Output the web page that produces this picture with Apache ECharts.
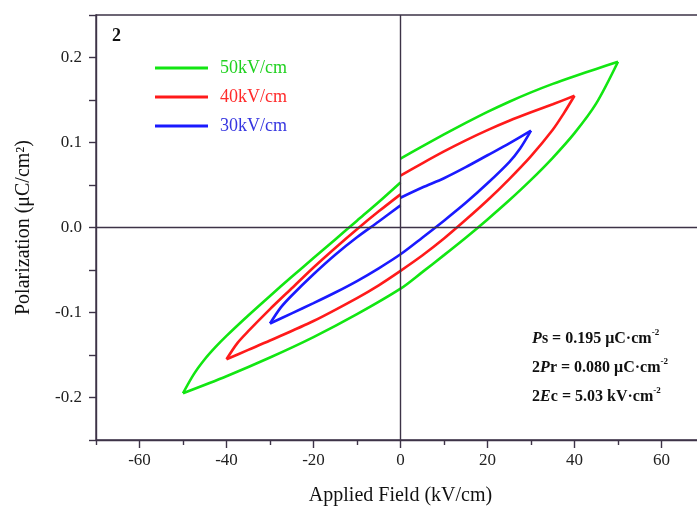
<!DOCTYPE html>
<html>
<head>
<meta charset="utf-8">
<script src="https://cdn.jsdelivr.net/npm/echarts@6/dist/echarts.min.js"></script>
<style>
html,body{margin:0;padding:0;background:#fff}
#main{width:697px;height:506px}
</style>
</head>
<body>
<div id="main"></div>
<script>
// hysteresis loops, [field kV/cm, polarization uC/cm2]
const loopNames = ['50kV/cm', '40kV/cm', '30kV/cm'];

// 50 kV/cm
const g50Rise = [[0,0.081],[5,0.0955],[10,0.1095],[15,0.123],[20,0.136],[25,0.148],[30,0.159],[35,0.169],[40,0.178],[45,0.1865],[50,0.195]];
const g50Fall = [[50,0.195],[45,0.146],[40,0.111],[35,0.082],[30,0.056],[25,0.032],[20,0.0095],[15,-0.012],[10,-0.0325],[5,-0.0525],[0,-0.072],[-10,-0.102],[-20,-0.129],[-30,-0.153],[-40,-0.175],[-50,-0.195]];
const g50Back = [[-50,-0.195],[-47.5,-0.1725],[-45,-0.155],[-42.5,-0.1405],[-40,-0.1275],[-35,-0.1035],[-30,-0.0805],[-25,-0.058],[-20,-0.036],[-15,-0.014],[-10,0.008],[-5,0.030],[0,0.053]];

// 40 kV/cm
const r40Rise = [[0,0.061],[5,0.0755],[10,0.0895],[15,0.1025],[20,0.1145],[25,0.1255],[30,0.1355],[35,0.145],[40,0.155]];
const r40Fall = [[40,0.155],[37.5,0.134],[35,0.115],[30,0.084],[25,0.057],[20,0.032],[15,0.009],[10,-0.013],[5,-0.033],[0,-0.051],[-5,-0.068],[-10,-0.083],[-20,-0.110],[-30,-0.133],[-35,-0.144],[-40,-0.155]];
const r40Back = [[-40,-0.155],[-37.5,-0.136],[-35,-0.122],[-30,-0.096],[-25,-0.0715],[-20,-0.047],[-15,-0.024],[-10,-0.002],[-5,0.019],[0,0.039]];

// 30 kV/cm
const b30Rise = [[0,0.035],[5,0.047],[10,0.058],[15,0.071],[20,0.085],[25,0.099],[30,0.114]];
const b30Fall = [[30,0.114],[27.5,0.093],[25,0.077],[20,0.052],[15,0.029],[10,0.008],[5,-0.012],[0,-0.0315],[-5,-0.048],[-10,-0.063],[-15,-0.0765],[-20,-0.089],[-25,-0.101],[-30,-0.113]];
const b30Back = [[-30,-0.113],[-27.5,-0.094],[-25,-0.080],[-20,-0.055],[-15,-0.032],[-10,-0.0115],[-5,0.007],[0,0.026]];

const xMajor = [-60, -40, -20, 0, 20, 40, 60];
const xMinor = [-70, -50, -30, -10, 10, 30, 50, 70];
const yLabels = [-0.2, -0.1, 0, 0.1, 0.2];

const axisColor = '#3d3347';
const serif = 'Liberation Serif, Times New Roman, serif';
const lineColors = ['#12e612', '#ff1a1a', '#1a1aff'];
const textColors = ['#1fd11f', '#ff2a2a', '#3535e0'];

const chart = echarts.init(document.getElementById('main'));

function seg(name, data, color) {
    return {
        name: name,
        type: 'line',
        data: data,
        smooth: 0.3,
        showSymbol: false,
        symbol: 'none',
        lineStyle: { color: color, width: 2.6 },
        itemStyle: { color: color },
        z: 3
    };
}

const series = [
    seg(loopNames[0], g50Rise, lineColors[0]),
    seg(loopNames[0], g50Fall, lineColors[0]),
    seg(loopNames[0], g50Back, lineColors[0]),
    seg(loopNames[1], r40Rise, lineColors[1]),
    seg(loopNames[1], r40Fall, lineColors[1]),
    seg(loopNames[1], r40Back, lineColors[1]),
    seg(loopNames[2], b30Rise, lineColors[2]),
    seg(loopNames[2], b30Fall, lineColors[2]),
    seg(loopNames[2], b30Back, lineColors[2]),
    {
        // zero lines
        type: 'line',
        data: [],
        silent: true,
        markLine: {
            silent: true,
            symbol: 'none',
            label: { show: false },
            lineStyle: { color: axisColor, width: 1.4, type: 'solid' },
            data: [{ xAxis: 0 }, { yAxis: 0 }]
        },
        z: 2
    }
];

chart.setOption({
    animation: false,
    backgroundColor: '#fff',
    grid: {
        left: 96, top: 15, width: 609, height: 425,
        outerBoundsMode: 'none',
        containLabel: false,
        show: true, borderColor: axisColor, borderWidth: 1.4
    },
    legend: {
        orient: 'vertical',
        left: 155, top: 59,
        padding: 0,
        itemWidth: 53, itemHeight: 3,
        itemGap: 11,
        icon: 'rect',
        selectedMode: false,
        data: loopNames.map((n, i) => ({
            name: n,
            textStyle: { color: textColors[i] }
        })),
        textStyle: { fontFamily: serif, fontSize: 18, padding: [0, 0, 0, 7] }
    },
    xAxis: [{
        type: 'value', min: -70, max: 70,
        name: 'Applied Field (kV/cm)',
        nameLocation: 'middle', nameGap: 46,
        nameTextStyle: { fontFamily: serif, fontSize: 20, color: '#111' },
        axisLine: { show: true, onZero: false, lineStyle: { color: axisColor, width: 1.4 } },
        axisTick: { show: true, customValues: xMajor, length: 8, lineStyle: { color: axisColor, width: 1.4 } },
        axisLabel: { customValues: xMajor, margin: 12, fontFamily: serif, fontSize: 17, color: '#222' },
        splitLine: { show: false }
    }, {
        type: 'value', min: -70, max: 70, position: 'bottom',
        axisLine: { show: false, onZero: false },
        axisTick: { show: true, customValues: xMinor, length: 5, lineStyle: { color: axisColor, width: 1.4 } },
        axisLabel: { show: false },
        splitLine: { show: false }
    }],
    yAxis: {
        type: 'value', min: -0.25, max: 0.25, interval: 0.05,
        name: 'Polarization (μC/cm²)',
        nameLocation: 'middle', nameGap: 62, nameRotate: 90,
        nameTextStyle: { fontFamily: serif, fontSize: 20, color: '#111' },
        axisLine: { show: true, onZero: false, lineStyle: { color: axisColor, width: 1.4 } },
        axisTick: { show: true, length: 7, lineStyle: { color: axisColor, width: 1.4 } },
        axisLabel: {
            customValues: yLabels, margin: 14,
            fontFamily: serif, fontSize: 17, color: '#222',
            formatter: v => v.toFixed(1)
        },
        splitLine: { show: false }
    },
    graphic: [{
        type: 'text', left: 112, top: 27,
        style: { text: '2', fontFamily: serif, fontSize: 18, fontWeight: 'bold', fill: '#111' }
    }, {
        type: 'text', right: 29, top: 324,
        style: {
            text: '{i|P}s = 0.195 μC·cm{s|-2}\n2{i|P}r = 0.080 μC·cm{s|-2}\n2{i|E}c = 5.03 kV·cm{s|-2}',
            align: 'right',
            fontFamily: serif, fontSize: 16, fontWeight: 'bold', fill: '#111',
            lineHeight: 29,
            rich: {
                i: { fontFamily: serif, fontSize: 16, fontStyle: 'italic', fontWeight: 'bold', fill: '#111', lineHeight: 29 },
                s: { fontFamily: serif, fontSize: 9, fontWeight: 'bold', fill: '#111', padding: [0, 0, 12, 0], lineHeight: 29 }
            }
        }
    }],
    series: series
});
</script>
</body>
</html>
